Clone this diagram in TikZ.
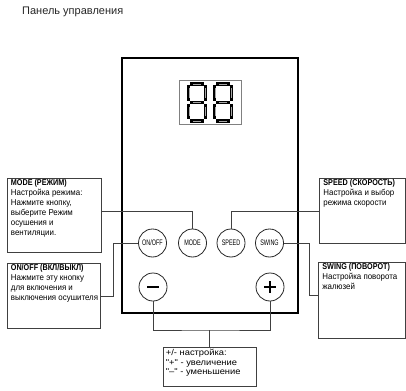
\documentclass[tikz,border=0pt]{standalone}
\usepackage{fontspec}
\setmainfont{Liberation Sans}
\newfontfamily\condfont[FakeStretch=0.68]{Liberation Sans}
\newfontfamily\headfont[FakeStretch=0.85]{Liberation Sans}
\newfontfamily\bodyfont[FakeStretch=0.93]{Liberation Sans}
\newfontfamily\widefont[FakeStretch=1.1]{Liberation Sans}
\usetikzlibrary{calc}
\begin{document}
\begin{tikzpicture}[x=1pt,y=-1pt,
  conn/.style={draw=black!75, line width=0.8pt},
  infobox/.style={draw=black!75, line width=0.8pt, anchor=north west, inner xsep=4pt, inner ysep=1pt, font=\bodyfont\fontsize{8.5}{10}\selectfont, align=left},
  btn/.style={circle, draw=black!85, line width=0.8pt, minimum size=28pt, inner sep=0pt, font=\condfont\fontsize{8}{9}\selectfont},
  seg/.style={line width=3.2pt, black},
  segin/.style={line width=0.4pt, gray!70, shorten <=3pt, shorten >=3pt},
  digit/.pic={
    \draw[seg] (3,2) -- (17,2);
    \draw[seg] (3,20.5) -- (17,20.5);
    \draw[seg] (3,39) -- (17,39);
    \draw[seg] (1.8,3.5) -- (1.8,19);
    \draw[seg] (1.8,22) -- (1.8,37.5);
    \draw[seg] (18.2,3.5) -- (18.2,19);
    \draw[seg] (18.2,22) -- (18.2,37.5);
    \draw[segin] (3,2) -- (17,2);
    \draw[segin] (3,20.5) -- (17,20.5);
    \draw[segin] (3,39) -- (17,39);
    \draw[segin] (1.8,3.5) -- (1.8,19);
    \draw[segin] (1.8,22) -- (1.8,37.5);
    \draw[segin] (18.2,3.5) -- (18.2,19);
    \draw[segin] (18.2,22) -- (18.2,37.5);
  }
]
\useasboundingbox (0,0) rectangle (406,390);

\node[anchor=base west, font=\fontsize{11}{13}\selectfont, text=black!85, inner sep=0pt] (title) at (22,15) {Панель управления};

% panel
\draw[line width=2pt] (122,58) rectangle (298,313);

% display
\draw[gray, line width=0.8pt] (179,80) rectangle (241,124);
\pic at (187,82) {digit};
\pic at (213,82) {digit};

% buttons
\node[btn] (onoff) at (152.5,243) {ON/OFF};
\node[btn] (mode) at (192.5,243) {MODE};
\node[btn] (speed) at (231,243) {SPEED};
\node[btn] (swing) at (269.5,243) {SWING};
\node[btn] (minus) at (153,287) {};
\node[btn] (plus) at (270,287) {};
\draw[line width=1.4pt] ($(minus)+(-6,0)$) -- ($(minus)+(6,0)$);
\draw[line width=1.2pt] ($(plus)+(-6,0)$) -- ($(plus)+(6,0)$);
\draw[line width=1.2pt] ($(plus)+(0,-6)$) -- ($(plus)+(0,6)$);

% info boxes
\node[infobox] (modebox) at (6.5,178) {\parbox[t][72pt][t]{86.5pt}{\raggedright\mbox{\headfont\bfseries MODE (РЕЖИМ)}\\\mbox{Настройка режима:}\\\mbox{Нажмите  кнопку,}\\\mbox{выберите Режим}\\\mbox{осушения и}\\\mbox{вентиляции.}}};
\node[infobox] (onoffbox) at (6.5,263) {\parbox[t][63pt][t]{85.5pt}{\raggedright\mbox{\headfont\bfseries ON/OFF (ВКЛ/ВЫКЛ)}\\\mbox{Нажмите эту кнопку}\\\mbox{для включения и}\\\mbox{выключения осушителя}}};
\node[infobox] (speedbox) at (319,178) {\parbox[t][63pt][t]{78pt}{\raggedright\mbox{\headfont\bfseries SPEED (СКОРОСТЬ)}\\\mbox{Настройка  и выбор}\\\mbox{режима скорости}}};
\node[infobox] (swingbox) at (318,262) {\parbox[t][74pt][t]{79pt}{\raggedright\mbox{\headfont\bfseries SWING (ПОВОРОТ)}\\\mbox{Настройка поворота}\\\mbox{жалюзей}}};
\node[infobox, inner xsep=3pt, inner ysep=2pt, font=\widefont\fontsize{8.5}{9.5}\selectfont] (adjbox) at (162.5,347) {\parbox[t][35pt][t]{87pt}{\raggedright\mbox{+/- настройка:}\\\mbox{"+" - увеличение}\\\mbox{"–" -  уменьшение}}};

% connectors
\draw[conn] ($(modebox.north east)!0.45!(modebox.south east)$) -| (mode.north);
\draw[conn] (speed.north) |- (speedbox.west);
\coordinate (onoffbend) at ($(onoff.west)+(-25,0)$);
\draw[conn] (onoff.west) -- (onoffbend) |- (onoffbox.east);
\coordinate (swingbend) at ($(swing.east)+(25,0)$);
\draw[conn] (swing.east) -- (swingbend) |- ($(swingbox.north west)!0.43!(swingbox.south west)$);
\coordinate (bj) at (adjbox.north |- 0,330);
\draw[conn] (minus.south) |- (bj) -| (plus.south);
\draw[conn] (bj) -- (adjbox.north);
\end{tikzpicture}
\end{document}
